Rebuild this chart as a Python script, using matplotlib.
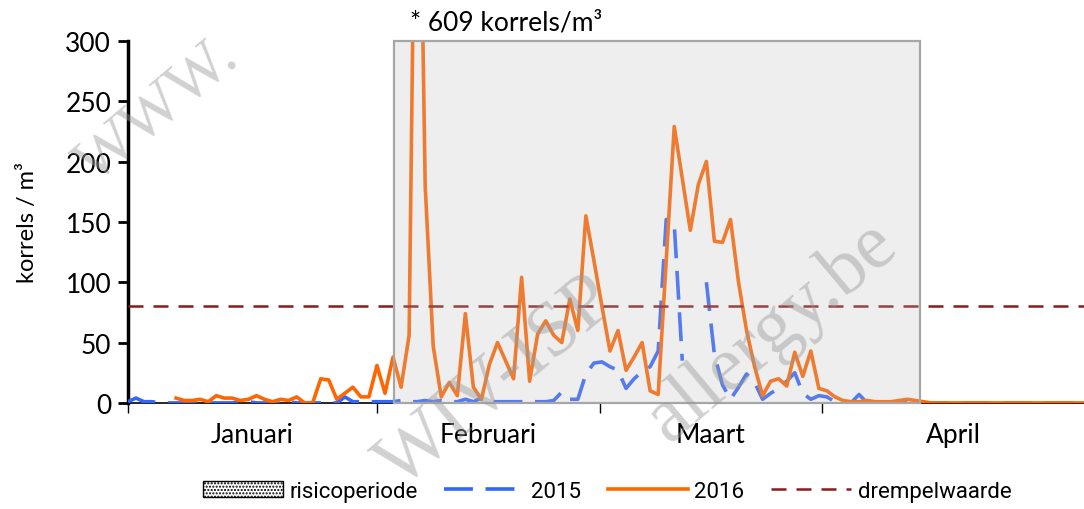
import numpy as np
import matplotlib
matplotlib.use("Agg")
import matplotlib.pyplot as plt
from matplotlib.patches import Patch
from matplotlib.lines import Line2D

nan = np.nan

# daily pollen counts, 1 Jan .. end of April (day index 0..119)
counts_2016 = [nan] * 6 + [
    4, 2, 2, 3, 1, 6, 4, 4, 2, 3,
    6, 3, 1, 3, 2, 5, 0, 0, 20, 19,
    3, 8, 13, 5, 5, 31,
    8, 38, 13, 56, 609, 180, 47, 5, 17, 6,
    74, 13, 3, 32, 50, 35, 20, 104, 18, 57,
    68, 56, 50, 86, 60, 155, 118, 80, 43, 60,
    27, 38, 50, 10, 7, 118, 229, 186, 143, 181,
    200, 134, 133, 152, 100, 60, 30, 6, 18, 20,
    14, 42, 22, 43, 12, 10, 5, 2, 1, 1,
    2, 1, 1, 1, 2, 3, 2, 1,
] + [0] * 20

counts_2015 = [
    1, 4, 1, 1, 0, 0, 0, 0, 0, 0,
    0, 0, 0, 0, 1, 1, 0, 0, 0, 0,
    1, 0, 0, 0, 0, 0, 0, 5, 1, 1,
    1, 1, 1, 1, 2, 1, 1, 2, 1, 2,
    1, 1, 3, 1, 4, 1, 1, 1, 1, 1,
    1, 1, 1, 2, 9, 3, 3, 24, 33, 34,
    30, 27, 12, 20, 26, 30, 43, 152, 148, 35,
    nan, nan, 100, 40, 15, 3, 13, 24, 17, 3,
    8, 12, 18, 25, 8, 3, 6, 5, 1, 0,
    0, 7, 0, 0, 0, 0, 0, 0, 0, 0,
] + [0] * 20

threshold = 80
risk_start, risk_end = 33.1, 98.6
peak_label = "* 609 korrels/m³"

month_names = ["Januari", "Februari", "Maart", "April"]
month_ticks = [0, 31, 58.7, 86.4, 119]

days = np.arange(len(counts_2016))

fig = plt.figure(figsize=(10.84, 5.10), dpi=100)
ax = fig.add_axes([0.118, 0.208, 0.882, 0.71])

ax.plot(days, counts_2015, color="#3366FF", lw=2.6, dashes=(8, 3.5), zorder=3)
ax.plot(days, counts_2016, color="#FF6600", lw=2.6, zorder=4)
ax.axhline(threshold, color="#8B1A1A", lw=1.8, dashes=(6, 4), zorder=5)
ax.axvspan(risk_start, risk_end, facecolor="#BCBCBC", alpha=0.25,
           edgecolor="none", zorder=6)
ax.axvspan(risk_start, risk_end, facecolor="none", edgecolor="#A6A6A6",
           lw=1.6, zorder=6, clip_on=False)

ax.set_xlim(0, 119)
ax.set_ylim(0, 300)
ax.set_yticks(range(0, 301, 50))
ax.set_xticks(month_ticks[:-1])
ax.set_xticklabels([])
centres = [(a + b) / 2 for a, b in zip(month_ticks[:-1], month_ticks[1:])]
ax.set_xticks(centres, minor=True)
ax.set_xticklabels(month_names, minor=True)
ax.tick_params(axis="x", which="major", length=7, width=1, direction="out")
ax.tick_params(axis="x", which="minor", length=0, pad=14, labelsize=19)
ax.tick_params(axis="y", length=7, width=2, direction="out", labelsize=19, pad=5)
for lab in ax.get_xticklabels(minor=True) + ax.get_yticklabels():
    lab.set_family("Lato")

for s in ["top", "right"]:
    ax.spines[s].set_visible(False)
ax.spines["left"].set_linewidth(2.5)
ax.spines["bottom"].set_linewidth(1.2)

ax.set_ylabel("korrels / m³", fontsize=17, family="Lato", labelpad=20)
ax.text(risk_start + 2, 305, peak_label, fontsize=19, family="Lato",
        va="bottom", ha="left")

# watermark
wm = dict(family="Liberation Serif", color="#9a9a9a", alpha=0.45, zorder=10,
          fontsize=56, rotation=40, rotation_mode="anchor")
fig.text(95 / 1084, 1 - 185 / 510, "WWW.", **{**wm, "fontsize": 46})
fig.text(400 / 1084, 1 - 490 / 510, "WIV-ISP", **wm)
fig.text(900 / 1084, 1 - 250 / 510, "allergy.be", ha="right", **wm)

handles = [
    Patch(facecolor="white", edgecolor="black", hatch=".....", label="risicoperiode"),
    Line2D([], [], color="#3366FF", lw=2.6, dashes=(8, 3.5), label="2015"),
    Line2D([], [], color="#FF6600", lw=2.6, label="2016"),
    Line2D([], [], color="#8B1A1A", lw=1.8, dashes=(6, 4), label="drempelwaarde"),
]
fig.legend(handles=handles, loc="lower center", bbox_to_anchor=(0.56, -0.025),
           ncol=4, frameon=False, handlelength=3.6, columnspacing=1.2,
           handletextpad=0.3, prop={"family": "Roboto", "size": 16})

fig.savefig("out.png", dpi=100)
